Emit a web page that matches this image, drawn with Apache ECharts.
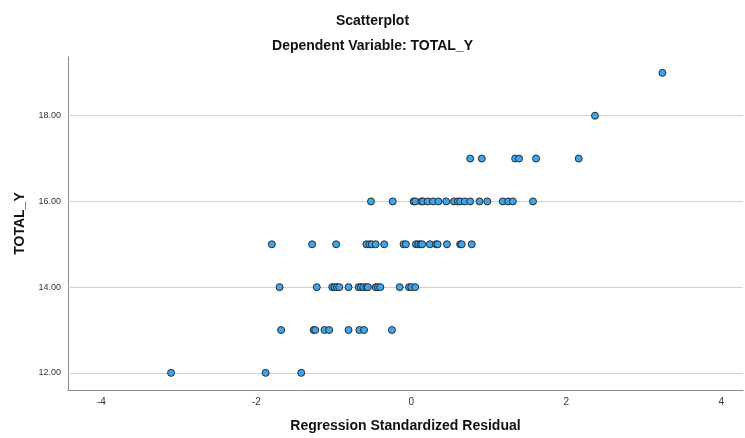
<!DOCTYPE html>
<html>
<head>
<meta charset="utf-8">
<script src="https://cdn.jsdelivr.net/npm/echarts@6/dist/echarts.min.js"></script>
<style>
  html, body { margin: 0; padding: 0; background: #fff; }
  #chart { width: 745px; height: 438px; }
</style>
</head>
<body>
<div id="chart"></div>
<script>
// standardized residuals, grouped by the TOTAL_Y value they belong to
const totalYLevels = [12, 13, 14, 15, 16, 17, 18, 19]
const resid12 = [-3.10, -1.88, -1.42]
const resid13 = [-1.68, -1.26, -1.24, -1.12, -1.06, -0.81, -0.67, -0.61, -0.25]
const resid14 = [-1.70, -1.22, -1.02, -0.99, -0.96, -0.93, -0.81, -0.68, -0.65, -0.62,
  -0.58, -0.56, -0.46, -0.43, -0.40, -0.15, -0.03, 0.00, 0.05]
const resid15 = [-1.80, -1.28, -0.97, -0.58, -0.54, -0.51, -0.46, -0.35, -0.10, -0.07,
  0.06, 0.09, 0.12, 0.14, 0.24, 0.32, 0.34, 0.46, 0.63, 0.65, 0.78]
const resid16 = [-0.52, -0.24, 0.03, 0.05, 0.13, 0.15, 0.21, 0.28, 0.35, 0.45,
  0.55, 0.60, 0.63, 0.69, 0.76, 0.88, 0.98, 1.18, 1.25, 1.31, 1.57]
const resid17 = [0.76, 0.91, 1.34, 1.39, 1.61, 2.16]
const resid18 = [2.37]
const resid19 = [3.24]

const xTicks = [-4, -2, 0, 2, 4]
const yTicks = [12, 14, 16, 18]

const residGroups = [resid12, resid13, resid14, resid15, resid16, resid17, resid18, resid19]
const points = []
residGroups.forEach((group, i) => {
  group.forEach(r => points.push([r, totalYLevels[i]]))
})

const font = '"Liberation Sans", Arial, sans-serif'

const myChart = echarts.init(document.getElementById('chart'))
myChart.setOption({
  animation: false,
  backgroundColor: '#fff',
  title: [
    {
      text: 'Scatterplot',
      left: 'center',
      top: 9,
      textStyle: { fontFamily: font, fontSize: 14, fontWeight: 'bold', color: '#111' },
    },
    {
      text: 'Dependent Variable: TOTAL_Y',
      left: 'center',
      top: 34,
      textStyle: { fontFamily: font, fontSize: 14, fontWeight: 'bold', color: '#111' },
    },
  ],
  grid: { left: 68, right: 2, top: 57, bottom: 46 },
  xAxis: {
    type: 'value',
    min: -4.43,
    max: 4.28,
    name: 'Regression Standardized Residual',
    nameLocation: 'middle',
    nameGap: 29,
    nameTextStyle: { fontFamily: font, fontSize: 14, fontWeight: 'bold', color: '#111' },
    axisLine: { show: true, onZero: false, lineStyle: { color: '#8c8c8c', width: 1 } },
    axisTick: { show: false, customValues: xTicks },
    axisLabel: {
      customValues: xTicks,
      margin: 7,
      fontFamily: font,
      fontSize: 10,
      color: '#333',
    },
    splitLine: { show: false },
  },
  yAxis: {
    type: 'value',
    min: 11.6,
    max: 19.37,
    name: 'TOTAL_Y',
    nameLocation: 'middle',
    nameGap: 40,
    nameTextStyle: { fontFamily: font, fontSize: 14, fontWeight: 'bold', color: '#111' },
    axisLine: { show: true, onZero: false, lineStyle: { color: '#8c8c8c', width: 1 } },
    axisTick: { show: false, customValues: yTicks },
    axisLabel: {
      customValues: yTicks,
      margin: 7,
      fontFamily: font,
      fontSize: 9,
      color: '#333',
      formatter: v => v.toFixed(2),
    },
    splitLine: { show: false },
  },
  series: [
    {
      type: 'scatter',
      data: points,
      symbol: 'circle',
      symbolSize: 7,
      itemStyle: { color: '#3aa6f0', borderColor: '#2b2b2b', borderWidth: 1, opacity: 1 },
      markLine: {
        silent: true,
        symbol: 'none',
        label: { show: false },
        lineStyle: { color: '#cfcfcf', width: 1, type: 'solid' },
        data: yTicks.map(v => ({ yAxis: v })),
        z: 1,
      },
      z: 3,
    },
  ],
})
</script>
</body>
</html>
